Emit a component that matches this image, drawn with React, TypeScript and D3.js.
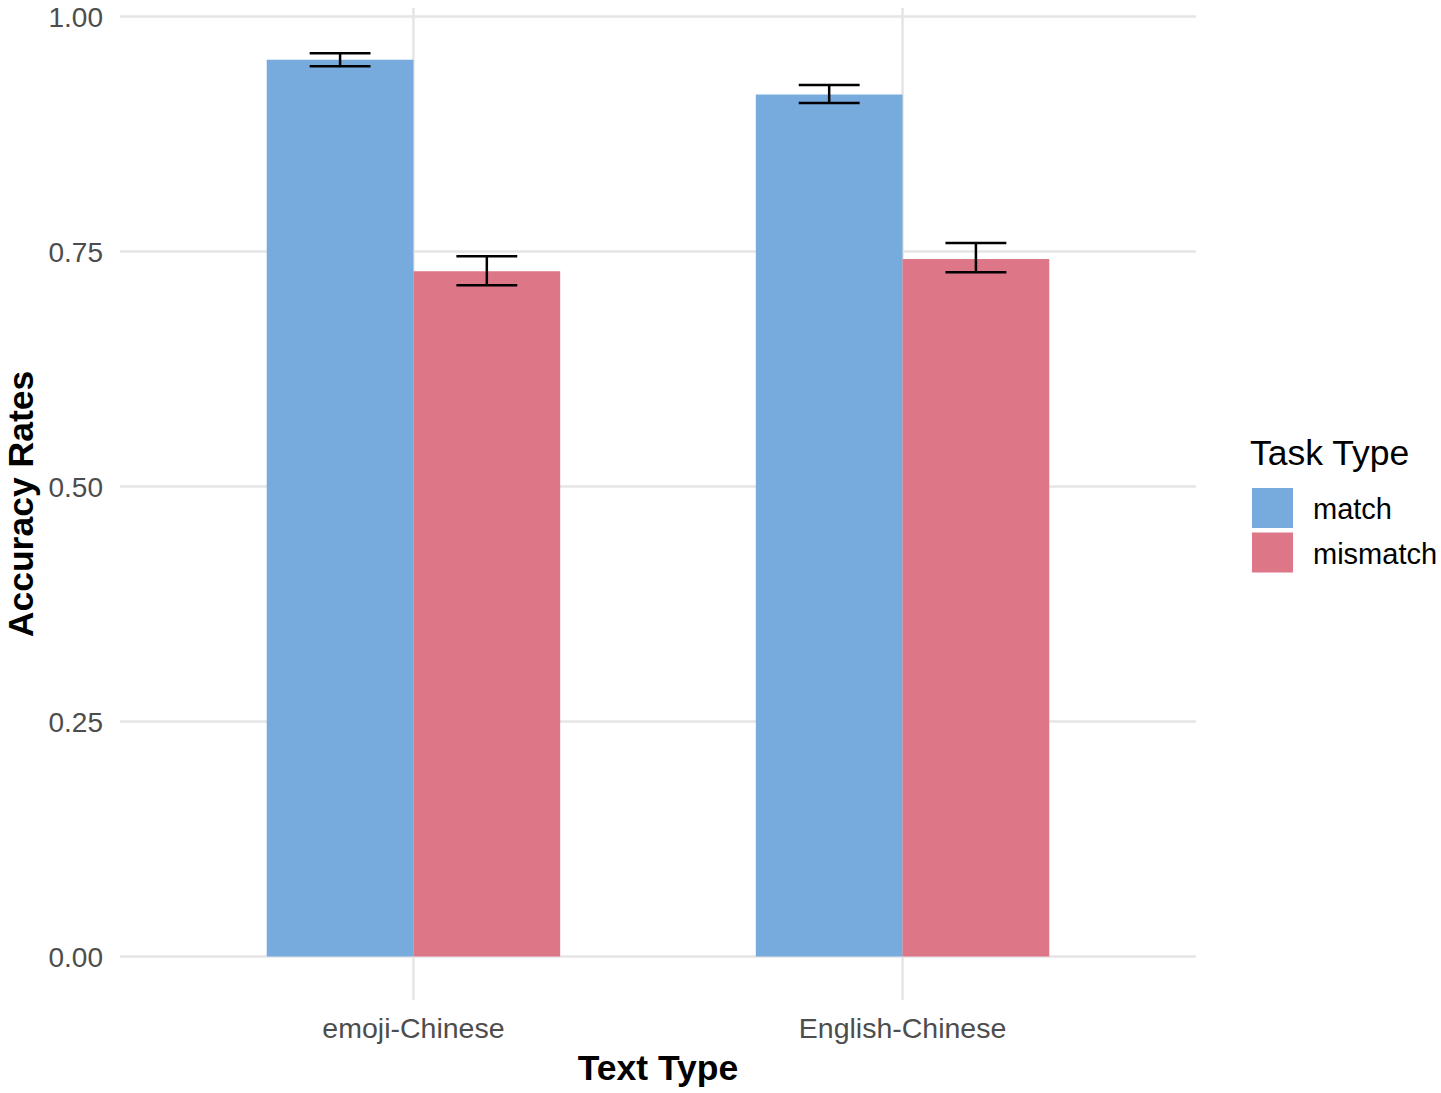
import React from "react";
import * as d3 from "d3";

const categories = ["emoji-Chinese", "English-Chinese"];
const taskTypes = ["match", "mismatch"];
const meanValues = [
  [0.954, 0.729],
  [0.917, 0.742],
];
const lowerValues = [
  [0.947, 0.714],
  [0.908, 0.728],
];
const upperValues = [
  [0.961, 0.745],
  [0.927, 0.759],
];
const yTicks = [0, 0.25, 0.5, 0.75, 1.0];
const colors = ["#77AADD", "#DD7788"];

export default function App() {
  const W = 1441, H = 1093;
  const left = 120, right = 1196, top = 8, bottom = 1000;
  const x = d3.scalePoint<string>().domain(categories).range([left, right]).padding(0.6);
  const unit = x.step();
  const y = d3.scaleLinear().domain([0, 1]).range([956.5, 16.5]);
  const dodge = d3.scaleBand<string>().domain(taskTypes).range([-0.3 * unit, 0.3 * unit]).padding(0);
  const bw = dodge.bandwidth();
  const capW = bw * 0.415;
  const font = "Liberation Sans, Arial, sans-serif";
  const grid = "#e5e5e5";

  return (
    <svg width={W} height={H} style={{ position: "absolute", left: 0, top: 0, background: "#fff" }} fontFamily={font}>
      {yTicks.map((t) => (
        <g key={"y" + t}>
          <line x1={left} x2={right} y1={y(t)} y2={y(t)} stroke={grid} strokeWidth={2.5} />
          <text x={103} y={y(t)} dy="0.36em" textAnchor="end" fontSize={28} fill="#4d4d4d">
            {t.toFixed(2)}
          </text>
        </g>
      ))}
      {categories.map((c) => (
        <g key={"x" + c}>
          <line x1={x(c)} x2={x(c)} y1={top} y2={bottom} stroke={grid} strokeWidth={2.5} />
          <text x={x(c)} y={1028} dy="0.36em" textAnchor="middle" fontSize={28.5} fill="#4d4d4d">
            {c}
          </text>
        </g>
      ))}
      {categories.map((c, i) =>
        taskTypes.map((tt, j) => {
          const x0 = (x(c) as number) + (dodge(tt) as number);
          const cx = x0 + bw / 2;
          return (
            <g key={c + tt}>
              <rect x={x0} y={y(meanValues[i][j])} width={bw} height={y(0) - y(meanValues[i][j])} fill={colors[j]} />
              <line x1={cx} x2={cx} y1={y(lowerValues[i][j])} y2={y(upperValues[i][j])} stroke="#000" strokeWidth={2.5} />
              <line x1={cx - capW / 2} x2={cx + capW / 2} y1={y(lowerValues[i][j])} y2={y(lowerValues[i][j])} stroke="#000" strokeWidth={2.5} />
              <line x1={cx - capW / 2} x2={cx + capW / 2} y1={y(upperValues[i][j])} y2={y(upperValues[i][j])} stroke="#000" strokeWidth={2.5} />
            </g>
          );
        })
      )}
      <text x={(left + right) / 2} y={1067} dy="0.36em" textAnchor="middle" fontSize={35.5} fontWeight="bold" fill="#000">
        Text Type
      </text>
      <text transform={`translate(20,504) rotate(-90)`} dy="0.36em" textAnchor="middle" fontSize={35.5} fontWeight="bold" fill="#000">
        Accuracy Rates
      </text>
      <text x={1250} y={452} dy="0.36em" fontSize={35.5} fill="#000">Task Type</text>
      {taskTypes.map((tt, j) => (
        <g key={"lg" + tt}>
          <rect x={1252} y={488 + j * 44.5} width={41} height={40} fill={colors[j]} />
          <text x={1313} y={509 + j * 44.5} dy="0.36em" fontSize={29} fill="#000">{tt}</text>
        </g>
      ))}
    </svg>
  );
}
